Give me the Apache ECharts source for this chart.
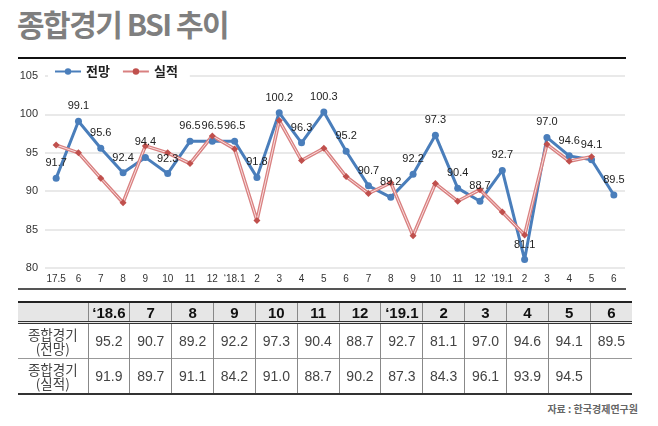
<!DOCTYPE html>
<html>
<head>
<meta charset="utf-8">
<script src="https://cdn.jsdelivr.net/npm/echarts@6/dist/echarts.min.js"></script>
<style>
  body { margin: 0; width: 658px; height: 426px; background: #fff; position: relative; overflow: hidden;
         font-family: "Noto Sans CJK KR", sans-serif; }
  #title { position: absolute; left: 17px; top: 1px; font-size: 30px; font-weight: bold; color: #7f7f7f; letter-spacing: -1.5px; }
  #rule { position: absolute; left: 18px; top: 57px; width: 608px; border-top: 2px solid #111; }
  #chart { position: absolute; left: 0; top: 0; width: 658px; height: 300px; }
  #sep { position: absolute; left: 18px; top: 288px; width: 608px; border-top: 2px solid #555; }
  #tbl { position: absolute; left: 18px; top: 301px; width: 614px; border-collapse: collapse; table-layout: fixed; }
  #tbl td, #tbl th { border-left: 1px solid #888; border-right: 1px solid #888; padding: 0; text-align: center; }
  #tbl tr td:first-child, #tbl tr th:first-child { border-left: none; }
  #tbl tr td:last-child, #tbl tr th:last-child { border-right: none; }
  #tbl thead tr { border-top: 2px solid #222; border-bottom: 3px double #333; background: #e6e6e6; }
  #tbl th { height: 18px; font-family: "Liberation Sans", Arial, sans-serif; font-size: 15px; font-weight: bold; color: #111; }
  #tbl tbody td { height: 34px; font-family: "Liberation Sans", Arial, sans-serif; font-size: 14px; color: #444; }
  #tbl tbody tr { border-bottom: 1px solid #999; }
  #tbl tbody tr:last-child { border-bottom: 2px solid #333; }
  #tbl tbody td.lab { font-family: "Noto Sans CJK KR", sans-serif; font-size: 13.5px; line-height: 14px; color: #444; }
  #src { position: absolute; right: 20px; top: 401px; font-size: 10px; font-weight: bold; color: #666; }
</style>
</head>
<body>
<div id="title">종합경기 BSI 추이</div>
<div id="rule"></div>
<div id="chart"></div>
<div id="sep"></div>
<table id="tbl"></table>
<div id="src">자료 : 한국경제연구원</div>
<script>
  // 월별 구분
  var months = ['17.5', '6', '7', '8', '9', '10', '11', '12', '‘18.1', '2', '3', '4', '5',
                '6', '7', '8', '9', '10', '11', '12', '‘19.1', '2', '3', '4', '5', '6']
  // 종합경기 전망
  var forecast = [91.7, 99.1, 95.6, 92.4, 94.4, 92.3, 96.5, 96.5, 96.5, 91.8, 100.2, 96.3, 100.3,
                  95.2, 90.7, 89.2, 92.2, 97.3, 90.4, 88.7, 92.7, 81.1, 97.0, 94.6, 94.1, 89.5]
  // 종합경기 실적
  var actual = [96.0, 95.0, 91.7, 88.5, 95.9, 95.0, 93.6, 97.2, 95.5, 86.2, 99.2, 94.0, 95.6,
                91.9, 89.7, 91.1, 84.2, 91.0, 88.7, 90.2, 87.3, 84.3, 96.1, 93.9, 94.5, null]
  // 표 머리글
  var tableHeads = ['‘18.6', '7', '8', '9', '10', '11', '12', '‘19.1', '2', '3', '4', '5', '6']
  var yTicks = { min: 80, max: 105, step: 5 }

  // 표 만들기 (마지막 13개월)
  var start = months.length - tableHeads.length
  var html = '<colgroup><col style="width:70px">'
  tableHeads.forEach(function () { html += '<col>' })
  html += '</colgroup><thead><tr><th></th>'
  tableHeads.forEach(function (h) { html += '<th>' + h + '</th>' })
  html += '</tr></thead><tbody>'
  var rows = [['종합경기<br>(전망)', forecast], ['종합경기<br>(실적)', actual]]
  rows.forEach(function (r) {
    html += '<tr><td class="lab">' + r[0] + '</td>'
    r[1].slice(start).forEach(function (v) {
      html += '<td>' + (v == null ? '' : v.toFixed(1)) + '</td>'
    })
    html += '</tr>'
  })
  html += '</tbody>'
  document.getElementById('tbl').innerHTML = html

  var chart = echarts.init(document.getElementById('chart'))
  chart.setOption({
    animation: false,
    textStyle: { fontFamily: '"Liberation Sans", Arial, sans-serif' },
    grid: { left: 45, right: 33, top: 76, bottom: 32 },
    legend: {
      data: ['전망', '실적'],
      left: 48,
      top: 62,
      itemWidth: 26,
      itemHeight: 8,
      itemGap: 12,
      padding: [3, 12, 3, 6],
      backgroundColor: '#fff',
      textStyle: { fontFamily: '"Noto Sans CJK KR", sans-serif', fontSize: 13, fontWeight: 'bold', color: '#222' }
    },
    xAxis: {
      type: 'category',
      data: months,
      axisLine: { show: false },
      axisTick: { show: false },
      axisLabel: { fontSize: 10, color: '#333', margin: 6, interval: 0 }
    },
    yAxis: {
      type: 'value',
      min: yTicks.min,
      max: yTicks.max,
      interval: yTicks.step,
      axisLabel: { fontSize: 11, color: '#333', margin: 7 },
      splitLine: { lineStyle: { color: '#e2e2e2', width: 1.5 } }
    },
    series: [
      {
        name: '전망',
        type: 'line',
        data: forecast,
        symbol: 'circle',
        symbolSize: 7,
        itemStyle: { color: '#4a7ebb' },
        lineStyle: { color: '#4a7ebb', width: 3 },
        label: {
          show: true, position: 'top', distance: 6, fontSize: 11, color: '#222',
          formatter: function (p) { return p.value.toFixed(1) }
        }
      },
      {
        name: '실적',
        type: 'line',
        data: actual,
        symbol: 'none',
        itemStyle: { color: '#c0504d' },
        lineStyle: { color: '#d98080', width: 3.5 }
      },
      {
        name: '실적',
        type: 'line',
        data: actual,
        symbol: 'diamond',
        symbolSize: 7,
        itemStyle: { color: '#c0504d' },
        lineStyle: { color: '#f8dede', width: 1 }
      }
    ]
  })
</script>
</body>
</html>
